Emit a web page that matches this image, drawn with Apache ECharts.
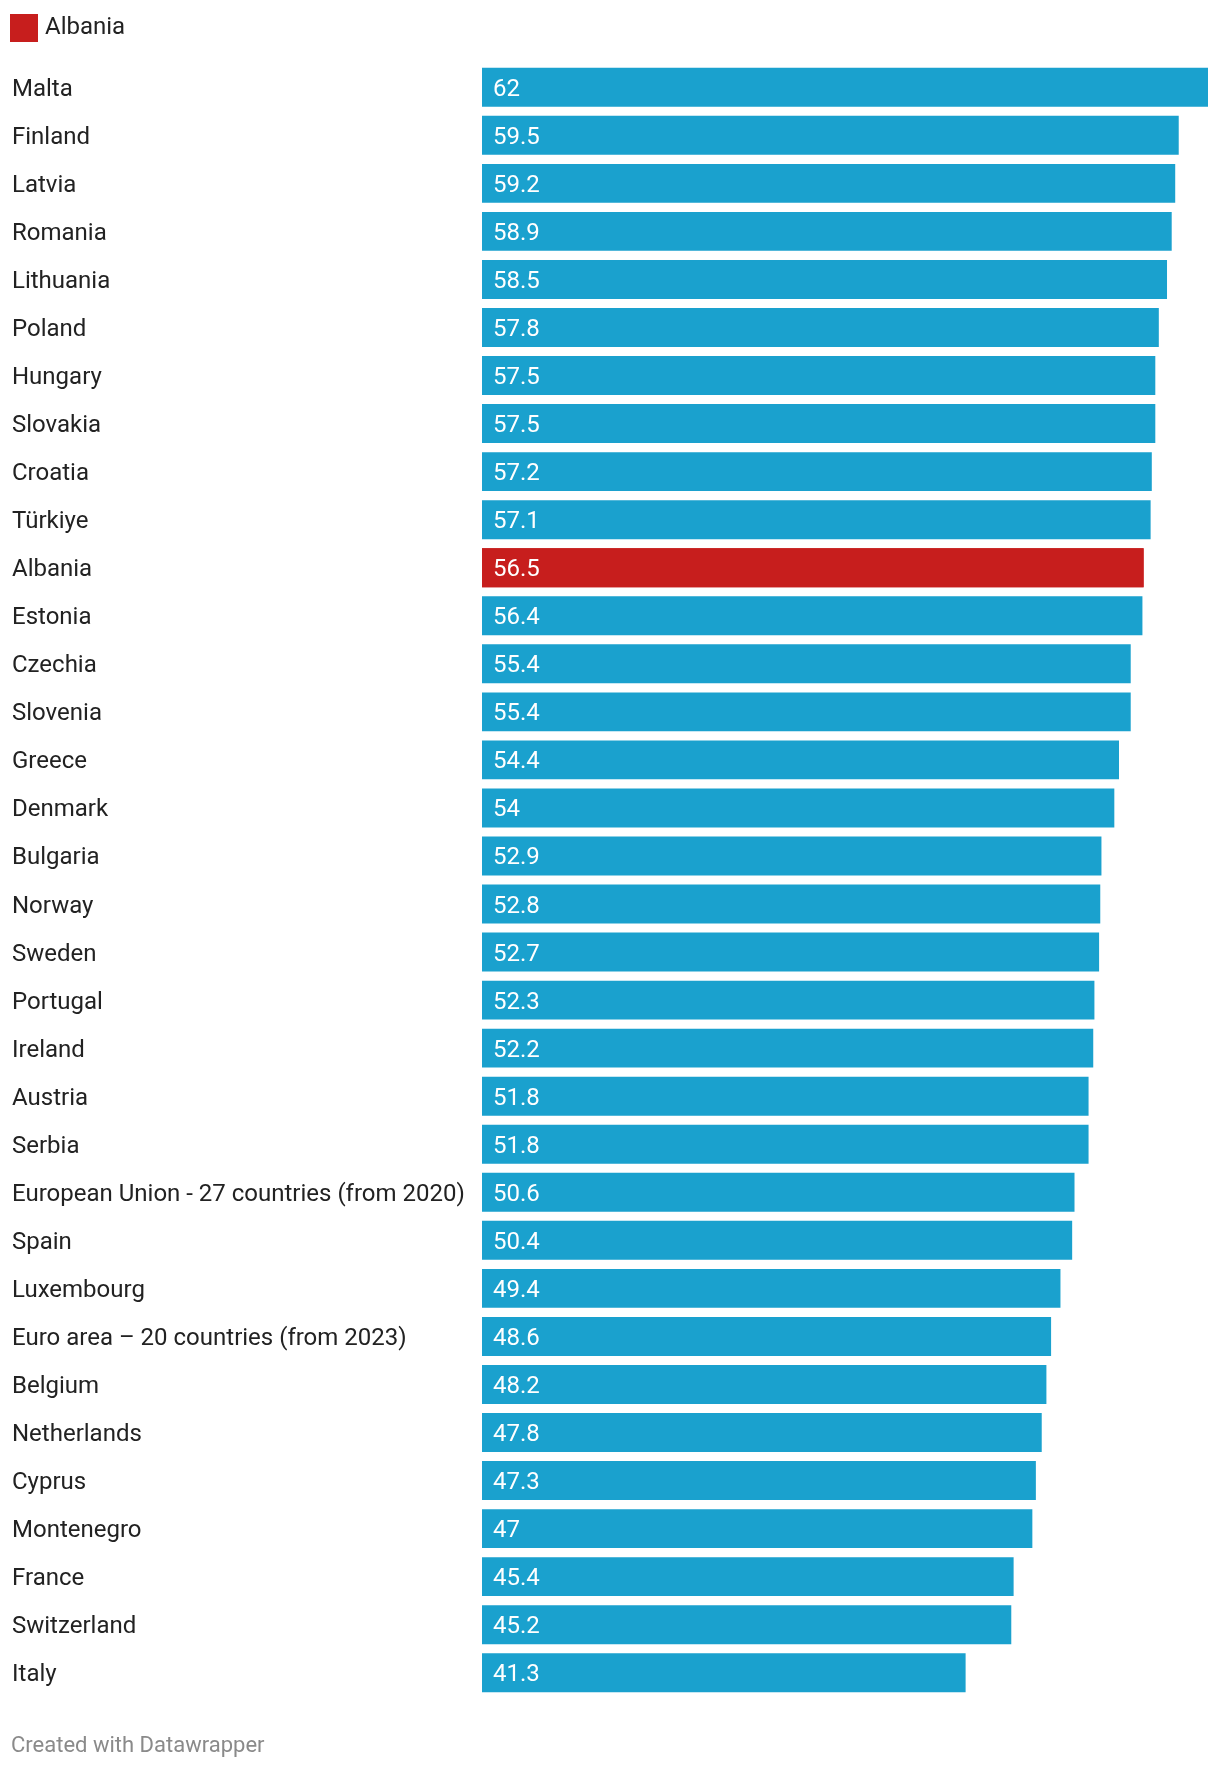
<!DOCTYPE html>
<html>
<head>
<meta charset="utf-8">
<script src="https://cdn.jsdelivr.net/npm/echarts@6/dist/echarts.min.js"></script>
<style>
html,body{margin:0;padding:0;background:#fff;}
#chart{width:1220px;height:1770px;}
</style>
</head>
<body>
<div id="chart"></div>
<script>
const categories = ["Malta","Finland","Latvia","Romania","Lithuania","Poland","Hungary","Slovakia","Croatia","Türkiye","Albania","Estonia","Czechia","Slovenia","Greece","Denmark","Bulgaria","Norway","Sweden","Portugal","Ireland","Austria","Serbia","European Union - 27 countries (from 2020)","Spain","Luxembourg","Euro area – 20 countries (from 2023)","Belgium","Netherlands","Cyprus","Montenegro","France","Switzerland","Italy"];
const values = [62,59.5,59.2,58.9,58.5,57.8,57.5,57.5,57.2,57.1,56.5,56.4,55.4,55.4,54.4,54,52.9,52.8,52.7,52.3,52.2,51.8,51.8,50.6,50.4,49.4,48.6,48.2,47.8,47.3,47,45.4,45.2,41.3];
const highlight = "Albania";
const BLUE = "#1aa1ce", RED = "#c71e1d";

const mainData = values.map((v,i)=>({value:v,itemStyle:{color:categories[i]===highlight?RED:BLUE}}));
const hlData = values.map((v,i)=>categories[i]===highlight?v:'-');

const chart = echarts.init(document.getElementById('chart'));
chart.setOption({
  animation:false,
  textStyle:{fontFamily:'Roboto'},
  legend:{
    data:[highlight], left:10, top:14, padding:0, itemWidth:28, itemHeight:28, icon:'rect',
    textStyle:{fontSize:24,color:'#222',fontFamily:'Roboto',padding:[2,0,0,2]},
    selectedMode:false
  },
  grid:{left:482,right:12,top:63.25,bottom:1770-1696.75,containLabel:false},
  xAxis:{type:'value',min:0,max:62,show:false},
  yAxis:{type:'category',data:categories,inverse:true,
    axisLine:{show:false},axisTick:{show:false},
    axisLabel:{align:'left',margin:470,color:'#222',
      formatter:'{v|{value}}',
      rich:{v:{fontSize:24,color:'#222',fontFamily:'Roboto',padding:[5,0,0,0]}}}},
  series:[
    {name:'values',type:'bar',data:mainData,barCategoryGap:'19%',
      label:{show:true,position:'insideLeft',distance:11,offset:[0,2.5],color:'#fff',fontSize:24,fontFamily:'Roboto'}},
    {name:highlight,type:'bar',data:hlData,barGap:'-100%',barCategoryGap:'19%',
      itemStyle:{color:RED},z:1,silent:true}
  ],
  graphic:[{type:'text',left:11,top:1735,style:{text:'Created with Datawrapper',fontSize:22,fill:'#8a8a8a',fontFamily:'Roboto'}}]
});
</script>
</body>
</html>
